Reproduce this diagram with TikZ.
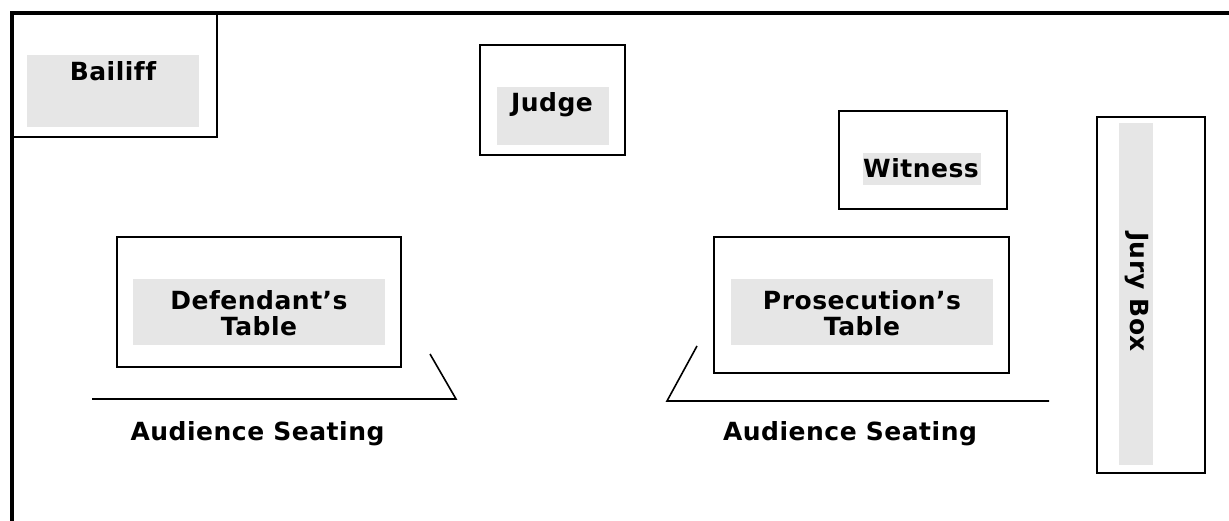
\documentclass[tikz,border=0pt]{standalone}
\usepackage{fontspec}
\setmainfont{DejaVu Sans}[LetterSpace=2,Ligatures=NoCommon]
\usepackage{xcolor}
\usetikzlibrary{positioning}
\definecolor{padgray}{HTML}{E6E6E6}
\tikzset{
  wall/.style={line width=3.5pt,line cap=rect},
  desk/.style 2 args={draw,line width=2.2pt,minimum width=#1,minimum height=#2,inner sep=0pt},
  pad/.style 2 args={fill=padgray,minimum width=#1,minimum height=#2,inner sep=0pt},
  lbl/.style={font=\bfseries\fontsize{25}{26.5}\selectfont,align=center,inner sep=0pt},
  rail/.style={line width=1.6pt}
}

\begin{document}
\begin{tikzpicture}[x=1pt,y=-1pt]
\useasboundingbox (0,0) rectangle (1229,521);
% room walls
\draw[wall] (1229,13) -- (12,13) -- (12,521);
% bailiff
\draw[line width=2.2pt] (12,13) rectangle (217,137);
\node[pad={172pt}{72pt}] (bailiffpad) at (113,91) {};
\node[lbl,anchor=base] (bailiff) at (113,81) {Bailiff};
% judge
\node[desk={145pt}{110pt}] (bench) at (552.5,100) {};
\node[pad={112pt}{58pt}] (judgepad) at (553,116) {};
\node[lbl,anchor=base] (judge) at (552,112) {Judge};
% witness
\node[desk={168pt}{98pt}] (stand) at (923,160) {};
\node[pad={118pt}{32pt}] (witnesspad) at (922,169) {};
\node[lbl,anchor=base] (witness) at (921,178) {Witness};
% jury
\node[desk={108pt}{356pt}] (jurybox) at (1151,295) {};
\node[pad={34pt}{342pt}] (jurypad) at (1136,294) {};
\node[lbl,rotate=-90] (jury) at (1137,292) {Jury Box};
% tables
\node[desk={284pt}{130pt}] (deftable) at (259,302) {};
\node[pad={252pt}{66pt}] (defpad) at (259,312) {};
\node[lbl] (deflbl) at (259,313) {Defendant’s\\Table};
\node[desk={295pt}{136pt}] (prostable) at (861.5,305) {};
\node[pad={262pt}{66pt}] (prospad) at (862,312) {};
\node[lbl] (proslbl) at (862,313) {Prosecution’s\\Table};
% audience rails
\draw[rail] (92,399) -- (456,399) -- (430,354);
\draw[rail] (697,346) -- (667,401) -- (1049,401);
\node[lbl,anchor=base] (seatl) at (257.5,440) {Audience Seating};
\node[lbl,anchor=base] (seatr) at (850,440) {Audience Seating};
\end{tikzpicture}
\end{document}
